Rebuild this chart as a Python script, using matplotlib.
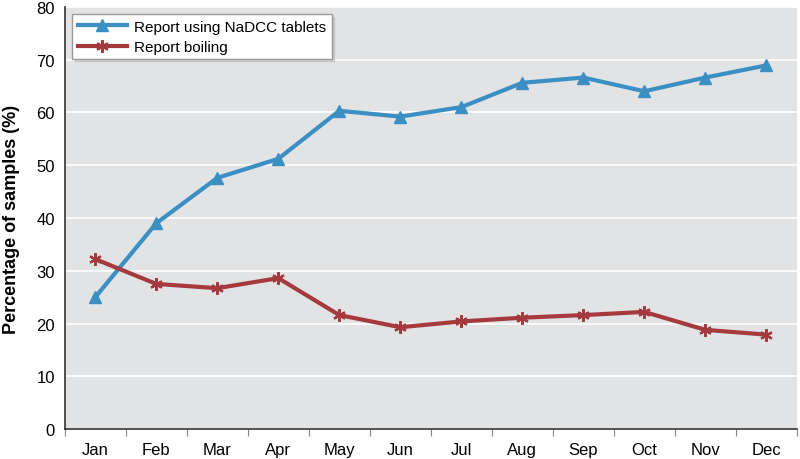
import numpy as np
import matplotlib
matplotlib.use("Agg")
import matplotlib.pyplot as plt

plt.rcParams['font.family'] = ['Liberation Sans Narrow', 'Liberation Sans', 'DejaVu Sans']

months = ['Jan', 'Feb', 'Mar', 'Apr', 'May', 'Jun', 'Jul', 'Aug', 'Sep', 'Oct', 'Nov', 'Dec']
nadcc = [25.0, 39.0, 47.6, 51.2, 60.3, 59.2, 61.0, 65.6, 66.6, 64.0, 66.6, 68.9]
boiling = [32.2, 27.5, 26.7, 28.6, 21.6, 19.3, 20.4, 21.1, 21.6, 22.2, 18.8, 17.9]

blue = '#3b8fc2'
red = '#a53a3e'

fig = plt.figure(figsize=(8, 4.6), dpi=100)
ax = fig.add_axes([0.081, 0.065, 0.915, 0.918])
ax.set_facecolor('#e2e3e5')

x = np.arange(len(months))
ax.plot(x, nadcc, color=blue, lw=3, marker='^', ms=8, mec=blue, mfc=blue,
        label='Report using NaDCC tablets', zorder=3)
ax.plot(x, boiling, color=red, lw=3, marker=(6, 2, 0), ms=9, mew=1.6, mec=red,
        label='Report boiling', zorder=3)

ax.set_ylim(0, 80)
ax.set_yticks(range(0, 81, 10))
ax.yaxis.grid(True, color='white', lw=1.2)
ax.set_axisbelow(True)
ax.tick_params(axis='y', length=0, labelsize=12, pad=7)

ax.set_xlim(-0.5, len(months) - 0.5)
ax.set_xticks(np.arange(-0.5, len(months), 1.0))
ax.set_xticklabels([])
ax.set_xticks(x, minor=True)
ax.set_xticklabels(months, minor=True)
ax.tick_params(axis='x', which='major', length=5, color='#888888', direction='out')
ax.tick_params(axis='x', which='minor', length=0, labelsize=12, pad=9)

for s in ['top', 'right']:
    ax.spines[s].set_visible(False)
ax.spines['left'].set_color('#333333')
ax.spines['bottom'].set_color('#333333')
ax.spines['left'].set_linewidth(1.2)
ax.spines['bottom'].set_linewidth(1.2)

ax.set_ylabel('Percentage of samples (%)', fontsize=13, fontweight='bold', labelpad=12)

leg = ax.legend(loc='upper left', bbox_to_anchor=(0.0, 1.0), fontsize=11,
                frameon=True, fancybox=False,
                shadow={'ox': 1.5, 'oy': -1.5, 'color': '#b5b5b5'},
                handlelength=3.2, borderpad=0.35, labelspacing=0.4,
                handletextpad=0.5)
leg.get_frame().set_edgecolor('#999999')
leg.get_frame().set_facecolor('white')

fig.savefig('out.png', dpi=100)
